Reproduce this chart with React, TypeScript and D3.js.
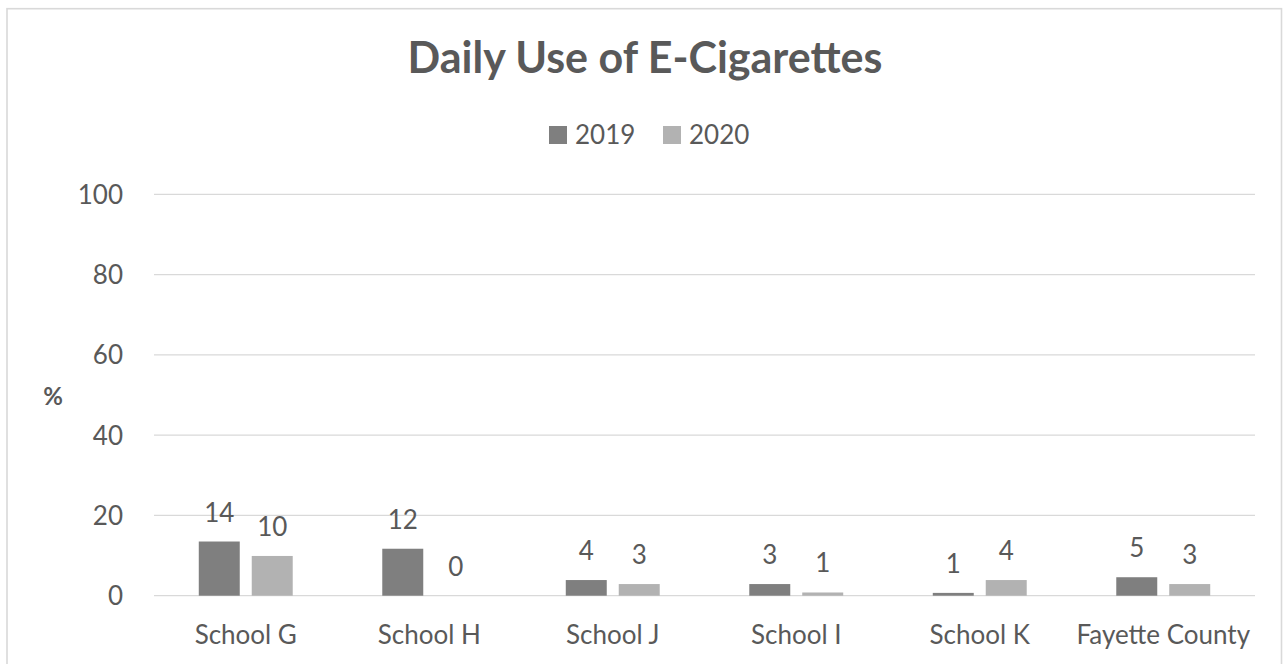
import React from "react";
import * as d3 from "d3";

const categories = ["School G", "School H", "School J", "School I", "School K", "Fayette County"];
const seriesNames = ["2019", "2020"];
const values2019 = [13.5, 11.7, 3.9, 2.9, 0.7, 4.6];
const values2020 = [9.9, 0, 2.9, 0.8, 3.9, 2.9];
const yTicks = [0, 20, 40, 60, 80, 100];
const colors = ["#7F7F7F", "#B2B2B2"];

const W = 1284;
const H = 664;
const plotLeft = 154;
const plotRight = 1255;
const plotTop = 194.3;
const plotBottom = 595.7;
const font = "Lato, Calibri, 'Liberation Sans', sans-serif";
const textColor = "#595959";

export default function App() {
  const x0 = d3.scaleBand<string>().domain(categories).range([plotLeft, plotRight]).paddingInner(0.488).paddingOuter(0.244);
  const x1 = d3.scaleBand<string>().domain(seriesNames).range([0, x0.bandwidth()]).paddingInner(0.2264);
  const y = d3.scaleLinear().domain([0, 100]).range([plotBottom, plotTop]);
  const series = [values2019, values2020];
  const fmt = d3.format(".0f");

  return (
    <svg width={W} height={H} style={{ position: "absolute", left: 0, top: 0, background: "#fff" }} fontFamily={font}>
      <rect x={0} y={0} width={W} height={H} fill="#fff" />
      <rect x={7} y={8.7} width={1274.5} height={720} fill="none" stroke="#D9D9D9" strokeWidth={1.6} />
      <text x={645} y={73} textAnchor="middle" fontSize={43} fontWeight="bold" fill={textColor}>
        Daily Use of E-Cigarettes
      </text>
      {/* legend */}
      {seriesNames.map((s, i) => {
        const lx = i === 0 ? 549 : 663;
        return (
          <g key={s}>
            <rect x={lx} y={126} width={18} height={18} fill={colors[i]} />
            <text x={lx + 26} y={144} fontSize={26} fill={textColor}>{s}</text>
          </g>
        );
      })}
      {/* gridlines */}
      {yTicks.map((t) => (
        <g key={t}>
          <line x1={plotLeft} x2={plotRight} y1={y(t)} y2={y(t)} stroke="#D9D9D9" strokeWidth={1.3} />
          <text x={123} y={y(t)} dy="0.36em" textAnchor="end" fontSize={26} fill={textColor}>{t}</text>
        </g>
      ))}
      <text x={53} y={396} dy="0.36em" textAnchor="middle" fontSize={24} fontWeight="bold" fill={textColor}>%</text>
      {/* bars */}
      {categories.map((c, ci) => (
        <g key={c}>
          {seriesNames.map((s, si) => {
            const v = series[si][ci];
            const bx = (x0(c) as number) + (x1(s) as number);
            const bw = x1.bandwidth();
            return (
              <g key={s}>
                <rect x={bx} y={y(v)} width={bw} height={y(0) - y(v)} fill={colors[si]} />
                <text x={bx + bw / 2} y={y(v) - 20} textAnchor="middle" fontSize={26} fill={textColor}>{fmt(v)}</text>
              </g>
            );
          })}
          <text x={(x0(c) as number) + x0.bandwidth() / 2} y={644} textAnchor="middle" fontSize={26} fill={textColor}>{c}</text>
        </g>
      ))}
    </svg>
  );
}
